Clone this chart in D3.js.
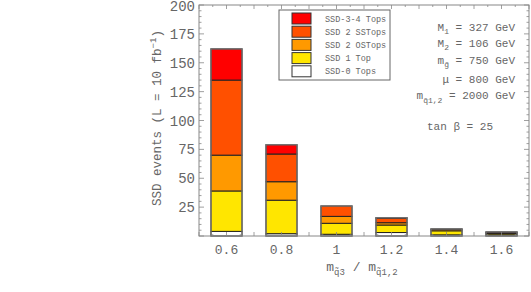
<!DOCTYPE html>
<html>
<head>
<meta charset="utf-8">
<script src="https://cdn.jsdelivr.net/npm/d3@7"></script>
<style>
  body { margin: 0; background: #fff; }
  text { font-family: "Liberation Mono", "DejaVu Sans Mono", monospace; fill: #666; }
</style>
</head>
<body>
<div id="chart"></div>
<script>
// chart data
var ratios = [0.6, 0.8, 1.0, 1.2, 1.4, 1.6];
var tickLabels = ["0.6", "0.8", "1", "1.2", "1.4", "1.6"];
var yTicks = [25, 50, 75, 100, 125, 150, 175, 200];
var ssd0 = [4, 2, 1.5, 3, 1, 0.4];
var ssd1 = [35, 29, 9.5, 6.5, 3.5, 1.3];
var ssd2os = [31, 16, 6, 2, 1.3, 0.8];
var ssd2ss = [65, 24, 9, 4, 0.3, 0.7];
var ssd34 = [27, 8, 0, 0.3, 0, 0.3];
var seriesNames = ["SSD-0 Tops", "SSD 1 Top", "SSD 2 OSTops", "SSD 2 SSTops", "SSD-3-4 Tops"];
var seriesColors = ["#ffffff", "#ffe600", "#ff9900", "#ff5000", "#ff0000"];

var svgWidth = 531, svgHeight = 292;
var plotLeft = 199, plotRight = 529, plotTop = 5, plotBottom = 236;

var svg = d3.select("#chart").append("svg")
  .attr("width", svgWidth)
  .attr("height", svgHeight);

var x = d3.scaleLinear().domain([0.5, 1.7]).range([plotLeft, plotRight]);
var y = d3.scaleLinear().domain([0, 200]).range([plotBottom, plotTop]);

// build stacked table
var table = ratios.map(function(r, i) {
  return { r: r, s0: ssd0[i], s1: ssd1[i], s2: ssd2os[i], s3: ssd2ss[i], s4: ssd34[i] };
});
var keys = ["s0", "s1", "s2", "s3", "s4"];
var stacked = d3.stack().keys(keys)(table);

var halfW = 0.0565;

// bars
stacked.forEach(function(layer, k) {
  svg.append("g").selectAll("rect")
    .data(layer.filter(function(d) { return d[1] - d[0] > 0; }))
    .enter().append("rect")
    .attr("x", function(d) { return x(d.data.r - halfW); })
    .attr("width", function(d) { return x(d.data.r + halfW) - x(d.data.r - halfW); })
    .attr("y", function(d) { return y(d[1]); })
    .attr("height", function(d) { return y(d[0]) - y(d[1]); })
    .attr("fill", seriesColors[k])
    .attr("stroke", "#222")
    .attr("stroke-width", 1);
});

// outer outline of each bar
svg.append("g").selectAll("rect")
  .data(table)
  .enter().append("rect")
  .attr("x", function(d) { return x(d.r - halfW); })
  .attr("width", function(d) { return x(d.r + halfW) - x(d.r - halfW); })
  .attr("y", function(d) { return y(d.s0 + d.s1 + d.s2 + d.s3 + d.s4); })
  .attr("height", function(d) { return y(0) - y(d.s0 + d.s1 + d.s2 + d.s3 + d.s4); })
  .attr("fill", "none")
  .attr("stroke", "#777")
  .attr("stroke-width", 1.3);

// frame
svg.append("rect")
  .attr("x", plotLeft).attr("y", plotTop)
  .attr("width", plotRight - plotLeft).attr("height", plotBottom - plotTop)
  .attr("fill", "none").attr("stroke", "#888").attr("stroke-width", 1);

// ticks
var ticksG = svg.append("g").attr("stroke", "#888").attr("stroke-width", 0.8);
d3.range(0.5, 1.701, 0.05).forEach(function(v) {
  var major = Math.abs(Math.round(v * 10) - v * 10) < 0.01;
  var len = major ? 4 : 2;
  ticksG.append("line").attr("x1", x(v)).attr("x2", x(v)).attr("y1", plotBottom).attr("y2", plotBottom - len);
  ticksG.append("line").attr("x1", x(v)).attr("x2", x(v)).attr("y1", plotTop).attr("y2", plotTop + len);
});
d3.range(0, 201, 5).forEach(function(v) {
  var len = v % 25 === 0 ? 5 : 2.5;
  ticksG.append("line").attr("x1", plotLeft).attr("x2", plotLeft + len).attr("y1", y(v)).attr("y2", y(v));
  ticksG.append("line").attr("x1", plotRight).attr("x2", plotRight - len).attr("y1", y(v)).attr("y2", y(v));
});

// tick labels
svg.append("g").selectAll("text")
  .data(yTicks).enter().append("text")
  .attr("x", plotLeft - 4).attr("y", function(d) { return Math.max(y(d) + 5, 11); })
  .attr("text-anchor", "end")
  .style("font-size", "14px")
  .text(function(d) { return d; });

svg.append("g").selectAll("text")
  .data(ratios).enter().append("text")
  .attr("x", function(d) { return x(d); }).attr("y", 254)
  .attr("text-anchor", "middle")
  .style("font-size", "13px")
  .text(function(d, i) { return tickLabels[i]; });

// axis titles
var yt = svg.append("text")
  .attr("transform", "translate(161,118) rotate(-90)")
  .attr("text-anchor", "middle")
  .style("font-size", "12.5px");
yt.append("tspan").text("SSD events (L = 10 fb");
yt.append("tspan").attr("dy", -5).style("font-size", "9px").text("−1");
yt.append("tspan").attr("dy", 5).text(")");

var xt = svg.append("text")
  .attr("x", 362).attr("y", 271)
  .attr("text-anchor", "middle")
  .style("font-size", "13px");
xt.append("tspan").text("m");
xt.append("tspan").attr("dy", 4).style("font-size", "9px").text("q̃3");
xt.append("tspan").attr("dy", -4).text(" / m");
xt.append("tspan").attr("dy", 4).style("font-size", "9px").text("q̃1,2");

// legend
var lg = svg.append("g");
lg.append("rect").attr("x", 279).attr("y", 10).attr("width", 111).attr("height", 70)
  .attr("fill", "#fff").attr("stroke", "#666").attr("stroke-width", 1);
var legendOrder = [4, 3, 2, 1, 0];
legendOrder.forEach(function(k, i) {
  var yy = 13 + i * 13.2;
  lg.append("rect").attr("x", 292).attr("y", yy).attr("width", 19).attr("height", 11)
    .attr("fill", seriesColors[k]).attr("stroke", "#333").attr("stroke-width", 1);
  lg.append("text").attr("x", 325).attr("y", yy + 8.5)
    .style("font-size", "8.5px")
    .text(seriesNames[k]);
});

// parameter annotations
var ann = svg.append("g").attr("text-anchor", "end").style("font-size", "11px");
function addAnn(xx, yy, parts) {
  var t = ann.append("text").attr("x", xx).attr("y", yy);
  parts.forEach(function(p) {
    var s = t.append("tspan").text(p[0]);
    if (p[1]) s.attr("dy", p[1]);
    if (p[2]) s.style("font-size", p[2]);
  });
}
addAnn(515, 31, [["M"], ["1", 3, "8px"], [" = 327 GeV", -3]]);
addAnn(515, 47, [["M"], ["2", 3, "8px"], [" = 106 GeV", -3]]);
addAnn(515, 64, [["m"], ["g̃", 3, "8px"], [" = 750 GeV", -3]]);
addAnn(515, 83, [["μ = 800 GeV"]]);
addAnn(515, 99, [["m"], ["q̃1,2", 4, "8px"], [" = 2000 GeV", -4]]);
addAnn(493, 130, [["tan β = 25"]]);
</script>
</body>
</html>
